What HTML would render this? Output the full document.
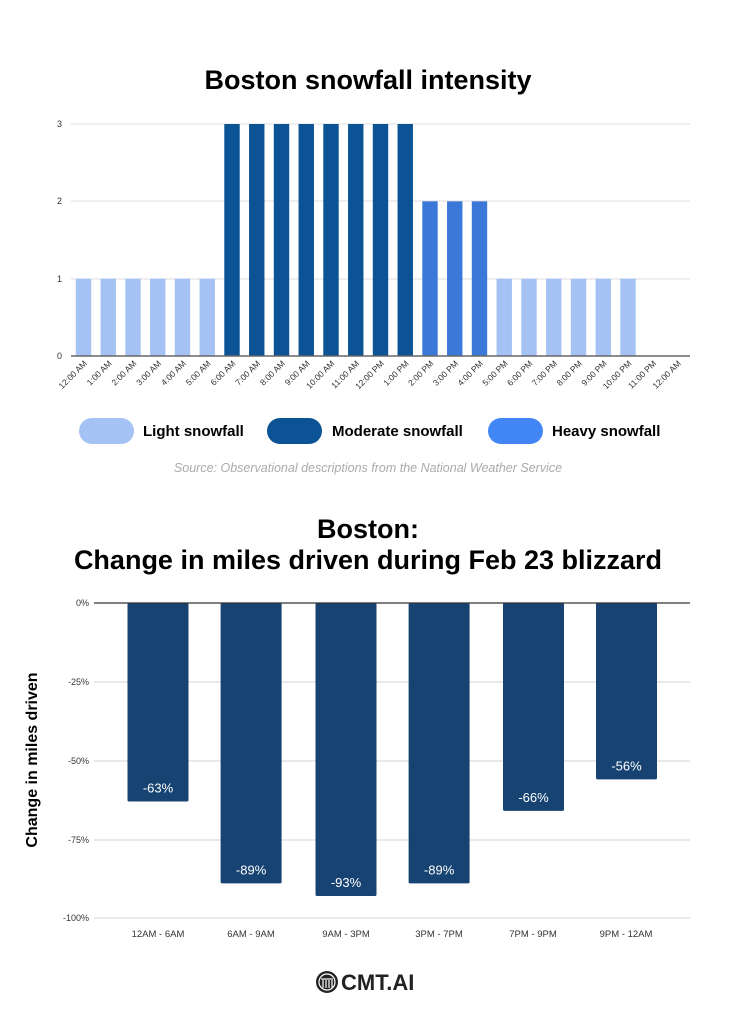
<!DOCTYPE html>
<html><head><meta charset="utf-8"><style>
html,body{margin:0;padding:0;background:#fff;}
svg{display:block;font-family:"Liberation Sans",sans-serif;}
</style></head><body>
<svg width="737" height="1024" viewBox="0 0 737 1024" xmlns="http://www.w3.org/2000/svg">
<rect width="737" height="1024" fill="#fff"/>
<text x="368" y="89" text-anchor="middle" font-size="27" font-weight="bold" fill="#000">Boston snowfall intensity</text>
<g stroke="#dcdcdc" stroke-width="1">
<line x1="71" y1="124" x2="690" y2="124"/><line x1="71" y1="201" x2="690" y2="201"/><line x1="71" y1="279" x2="690" y2="279"/>
</g>
<g font-size="9" fill="#333" text-anchor="end">
<text x="62" y="127">3</text><text x="62" y="204">2</text><text x="62" y="282">1</text><text x="62" y="359">0</text>
</g>
<g id="bars1"></g>
<line x1="71" y1="356" x2="690" y2="356" stroke="#666" stroke-width="1.5"/>
<g id="lbl1" font-size="8.5" fill="#333"></g>
<rect x="79" y="418" width="55" height="26" rx="13" fill="#a4c2f4"/>
<text x="143" y="436" font-size="15" font-weight="bold">Light snowfall</text>
<rect x="267" y="418" width="55" height="26" rx="13" fill="#0b5394"/>
<text x="332" y="436" font-size="15" font-weight="bold">Moderate snowfall</text>
<rect x="488" y="418" width="55" height="26" rx="13" fill="#4285f4"/>
<text x="552" y="436" font-size="15" font-weight="bold">Heavy snowfall</text>
<text x="368" y="472" text-anchor="middle" font-size="12.5" font-style="italic" fill="#aaa">Source: Observational descriptions from the National Weather Service</text>

<text x="368" y="538" text-anchor="middle" font-size="27" font-weight="bold" fill="#000">Boston:</text>
<text x="368" y="569" text-anchor="middle" font-size="27" font-weight="bold" fill="#000">Change in miles driven during Feb 23 blizzard</text>
<g stroke="#dcdcdc" stroke-width="1.2">
<line x1="94" y1="682" x2="690" y2="682"/><line x1="94" y1="761" x2="690" y2="761"/><line x1="94" y1="840" x2="690" y2="840"/><line x1="94" y1="918" x2="690" y2="918"/>
</g>
<g font-size="9" fill="#333" text-anchor="end">
<text x="89" y="606">0%</text><text x="89" y="685">-25%</text><text x="89" y="764">-50%</text><text x="89" y="843">-75%</text><text x="89" y="921">-100%</text>
</g>
<g id="bars2"></g>
<line x1="94" y1="603" x2="690" y2="603" stroke="#333" stroke-width="1.2"/>
<text transform="translate(37,760) rotate(-90)" text-anchor="middle" font-size="16" font-weight="bold">Change in miles driven</text>
<g font-size="9.5" fill="#333" text-anchor="middle">
<text x="158" y="937">12AM - 6AM</text><text x="251" y="937">6AM - 9AM</text><text x="346" y="937">9AM - 3PM</text><text x="439" y="937">3PM - 7PM</text><text x="533" y="937">7PM - 9PM</text><text x="626" y="937">9PM - 12AM</text>
</g>
<circle cx="327" cy="982" r="11" fill="#222"/>
<circle cx="327" cy="982" r="8" fill="none" stroke="#fff" stroke-width="1.2"/>
<g stroke="#fff" stroke-width="1.2"><line x1="323" y1="980" x2="323" y2="988"/><line x1="326" y1="980" x2="326" y2="988"/><line x1="329" y1="980" x2="329" y2="988"/><line x1="332" y1="980" x2="332" y2="988"/><line x1="321" y1="979" x2="333" y2="979"/></g>
<text x="341" y="990" font-size="22" font-weight="bold" fill="#222">CMT.AI</text>
<script>
(function(){
var ns="http://www.w3.org/2000/svg";
var vals=[1,1,1,1,1,1,3,3,3,3,3,3,3,3,2,2,2,1,1,1,1,1,1,0,0];
var labs=["12:00 AM","1:00 AM","2:00 AM","3:00 AM","4:00 AM","5:00 AM","6:00 AM","7:00 AM","8:00 AM","9:00 AM","10:00 AM","11:00 AM","12:00 PM","1:00 PM","2:00 PM","3:00 PM","4:00 PM","5:00 PM","6:00 PM","7:00 PM","8:00 PM","9:00 PM","10:00 PM","11:00 PM","12:00 AM"];
var g=document.getElementById("bars1"),gl=document.getElementById("lbl1");
for(var i=0;i<25;i++){
 var cx=83.5+i*24.75,v=vals[i];
 if(v>0){var r=document.createElementNS(ns,"rect");
 var h=v*77.33;r.setAttribute("x",cx-7.7);r.setAttribute("y",356-h);r.setAttribute("width",15.4);r.setAttribute("height",h);
 r.setAttribute("fill",v==3?"#0b5394":v==2?"#3c78d8":"#a4c2f4");g.appendChild(r);}
 var t=document.createElementNS(ns,"text");t.setAttribute("text-anchor","end");
 t.setAttribute("transform","translate("+(cx+4)+",364) rotate(-45)");t.textContent=labs[i];gl.appendChild(t);
}
var v2=[63,89,93,89,66,56],xs=[127.5,220.6,315.5,408.6,503,596];
var g2=document.getElementById("bars2");
for(var j=0;j<6;j++){
 var h2=v2[j]*3.15;var r2=document.createElementNS(ns,"rect");
 r2.setAttribute("x",xs[j]);r2.setAttribute("y",603);r2.setAttribute("width",61);r2.setAttribute("height",h2);r2.setAttribute("rx",1.5);r2.setAttribute("fill","#174373");g2.appendChild(r2);
 var t2=document.createElementNS(ns,"text");t2.setAttribute("x",xs[j]+30.5);t2.setAttribute("y",603+h2-9);t2.setAttribute("text-anchor","middle");
 t2.setAttribute("font-size","13");t2.setAttribute("fill","#fff");t2.textContent="-"+v2[j]+"%";g2.appendChild(t2);
}
})();
</script>
</svg>
</body></html>
